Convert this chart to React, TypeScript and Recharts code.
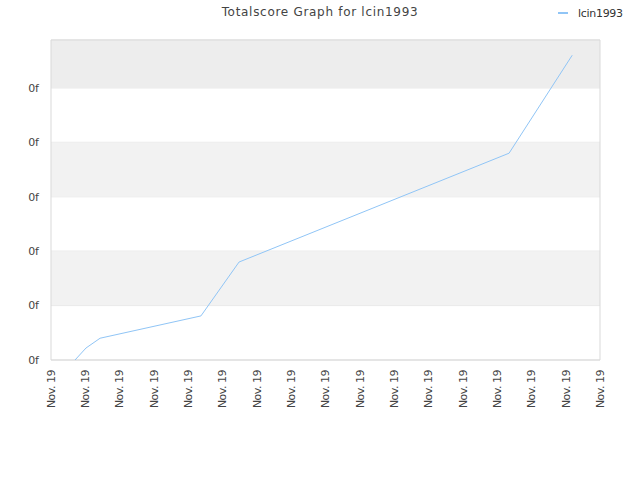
import { LineChart, Line, XAxis, YAxis, CartesianGrid, ReferenceArea } from "recharts";

const TITLE = "Totalscore Graph for lcin1993";
const SERIES_NAME = "lcin1993";
const xPos = [0.7, 1.02, 1.43, 4.37, 5.48, 13.35, 15.19];
const scores = [0, 0.22, 0.4, 0.81, 1.8, 3.8, 5.6];
const xTicks = [0, 1, 2, 3, 4, 5, 6, 7, 8, 9, 10, 11, 12, 13, 14, 15, 16];
const xTickLabel = "Nov. 19";
const yTicks = [0, 1, 2, 3, 4, 5];
const yTickLabel = "0f";
const Y_MAX = 5.88;

const LINE_COLOR = "#90c5f6";
const FONT = "DejaVu Sans, sans-serif";

const data = xPos.map((x, i) => ({ x, score: scores[i] }));

const XTick = ({ x, y }: any) => (
  <text
    transform={`translate(${x},${y + 2}) rotate(-90)`}
    textAnchor="end"
    dy="0.35em"
    fontSize={11}
    letterSpacing={-0.5}
    fill="#444"
    fontFamily={FONT}
  >
    {xTickLabel}
  </text>
);

const App = () => (
  <div style={{ position: "absolute", left: 0, top: 0, width: 640, height: 480, background: "#fff" }}>
    <svg width={640} height={480} style={{ position: "absolute", left: 0, top: 0 }}>
      <text x={320} y={16} textAnchor="middle" fontSize={12} fill="#444" fontFamily={FONT} letterSpacing={0.7}>
        {TITLE}
      </text>
      <line x1={558} x2={568} y1={13} y2={13} stroke={LINE_COLOR} strokeWidth={2} />
      <text x={578} y={17} fontSize={11} fill="#333" fontFamily={FONT} letterSpacing={-0.3}>
        {SERIES_NAME}
      </text>
    </svg>
    <div style={{ position: "absolute", left: 0, top: 0 }}>
      <LineChart width={640} height={480} data={data} margin={{ top: 40, right: 40, bottom: 0, left: 0 }}>
        <ReferenceArea x1={0} x2={16} y1={5} y2={Y_MAX} fill="#ededed" fillOpacity={1} stroke="none" ifOverflow="visible" />
        <ReferenceArea x1={0} x2={16} y1={3} y2={4} fill="#f2f2f2" fillOpacity={1} stroke="none" />
        <ReferenceArea x1={0} x2={16} y1={1} y2={2} fill="#f2f2f2" fillOpacity={1} stroke="none" />
        <CartesianGrid vertical={false} stroke="#e2e2e2" />
        <ReferenceArea x1={0} x2={16} y1={0} y2={Y_MAX} fill="none" stroke="#d9d9d9" ifOverflow="visible" />
        <XAxis
          dataKey="x"
          type="number"
          domain={[0, 16]}
          ticks={xTicks}
          interval={0}
          height={120}
          tick={<XTick />}
          tickLine={false}
          axisLine={false}
        />
        <YAxis
          type="number"
          domain={[0, Y_MAX]}
          ticks={yTicks}
          width={51}
          tickFormatter={() => yTickLabel}
          tickLine={false}
          axisLine={false}
          tick={{ fontSize: 11, fill: "#444", fontFamily: FONT }}
          tickMargin={6}
        />
        <Line
          type="linear"
          dataKey="score"
          stroke={LINE_COLOR}
          strokeWidth={1}
          dot={false}
          isAnimationActive={false}
        />
      </LineChart>
    </div>
  </div>
);

export default App;
